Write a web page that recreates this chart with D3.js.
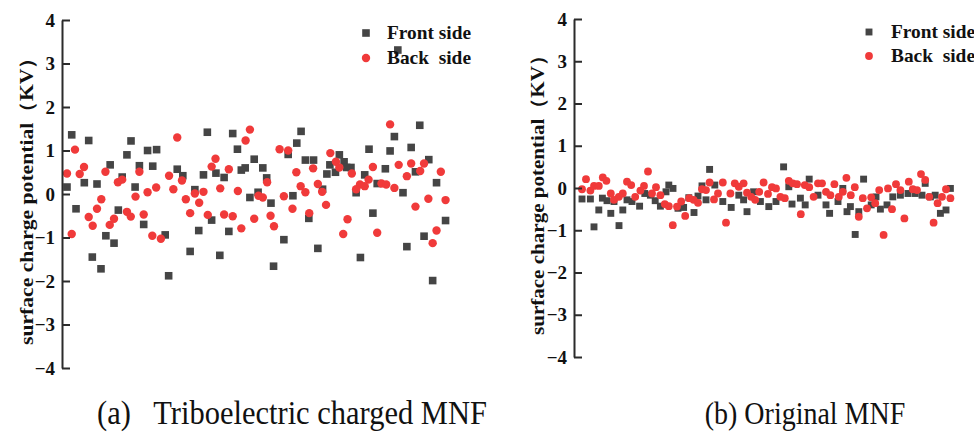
<!DOCTYPE html>
<html>
<head>
<meta charset="utf-8">
<script src="https://cdn.jsdelivr.net/npm/d3@7"></script>
<style>
  body { margin: 0; background: #fff; }
  svg { display: block; }
  text { font-family: "Liberation Serif", "Times New Roman", serif; }
</style>
</head>
<body>
<svg id="chart" width="974" height="432"></svg>
<script>
// ---------- DATA ----------
const yTicks = [-4, -3, -2, -1, 0, 1, 2, 3, 4];
const seriesNames = ["Front side", "Back  side"];
const yLabel = "surface charge potential（KV）";
const captions = ["(a)   Triboelectric charged MNF", "(b) Original MNF"];

// Panel (a): Triboelectric charged MNF
const aFrontX = [2.26,6.21,16.05,33.8,39.7,19.9,22.0,15.1,40.8,11.2,18.0,21.1,26.8,44.7,42.6,41.7,46.7,14.0,28.1,32.9,35.8,37.7,47.6,1.16,5.19,8.14,17.0,30.9,3.26,13.1,43.7,45.6,48.6,19.0,34.8,10.2,24.0,31.8,38.8,12.1,7.05,9.07,29.8,36.7,24.8,49.2,
  55.6,54.6,52.6,56.6,58.5,83.2,77.3,71.4,76.3,81.2,85.3,64.5,65.6,62.3,67.2,66.2,63.6,61.6,70.4,75.2,82.2,73.3,87.1,53.7,60.6,68.4,79.3,57.4,72.3,89.2,51.6,59.5,84.2,80.2,69.4,86.2,78.1];
const aFrontY = [1.36,1.23,1.22,1.42,1.39,1.00,1.02,0.90,1.03,0.67,0.65,0.64,0.57,0.80,0.60,0.55,0.60,0.39,0.42,0.44,0.48,0.38,0.37,0.16,0.26,0.23,0.16,0.10,-0.34,-0.37,-0.08,0.04,-0.21,-0.70,-0.60,-0.96,-0.94,-0.84,-0.86,-1.13,-1.45,-1.72,-1.32,-1.41,-1.88,-1.66,
  1.44,1.17,0.91,0.78,0.78,1.58,1.32,1.03,0.99,1.07,0.79,0.90,0.74,0.67,0.61,0.61,0.50,0.46,0.44,0.58,0.51,0.24,0.26,-0.04,0.11,0.03,0.03,-0.56,-0.44,-0.61,-1.05,-1.25,-0.97,-1.21,-1.46,-1.99,3.31];
const aBackX = [3.02,26.8,43.7,42.7,35.7,34.8,38.8,5.12,4.12,1.16,10.1,18.0,24.9,13.0,14.0,27.9,47.7,25.9,21.9,19.9,17.1,9.14,36.8,40.9,32.9,30.9,28.8,31.9,8.14,45.7,46.7,6.21,7.14,11.1,12.1,15.1,16.0,19.0,29.8,33.9,37.7,39.7,44.7,41.7,48.5,2.26,21.0,23.0,49.3,
  76.3,50.6,52.6,62.4,63.7,64.5,58.4,54.5,67.4,72.3,78.3,81.2,84.2,83.3,80.2,88.1,71.3,69.3,70.4,68.4,74.3,75.4,77.3,55.5,56.6,59.5,60.5,51.6,61.4,53.6,57.5,66.4,65.4,73.3,82.2,85.2,89.2,87.1,86.2];
const aBackY = [1.02,1.30,1.48,1.23,0.81,0.63,0.57,0.62,0.46,0.47,0.51,0.51,0.42,0.27,0.33,0.31,0.27,0.11,0.15,0.04,-0.06,-0.12,0.13,0.07,0.05,0.01,-0.12,-0.20,-0.34,-0.04,-0.08,-0.53,-0.73,-0.71,-0.57,-0.41,-0.52,-0.47,-0.44,-0.48,-0.47,-0.51,-0.57,-0.79,-0.50,-0.92,-0.96,-1.03,-0.74,
  1.60,1.03,1.00,0.94,0.74,0.61,0.59,0.50,0.47,0.62,0.67,0.70,0.70,0.53,0.41,0.51,0.33,0.22,0.18,0.11,0.24,0.22,0.14,0.18,0.04,0.23,0.05,-0.05,-0.25,-0.34,-0.44,-0.58,-0.92,-0.89,-0.29,-0.11,-0.14,-0.84,-1.13];

// Panel (b): Original MNF
const bFrontX = [2.0,4.1,5.0,6.2,7.1,8.25,9.2,10.0,11.25,12.2,13.25,14.5,16.4,17.7,19.1,20.3,21.6,23.0,23.7,24.75,26.0,27.4,28.7,30.0,31.0,32.0,33.0,33.9,35.2,37.2,39.3,41.2,42.4,43.25,44.9,46.6,48.7,50.5,52.4,53.7,54.5,56.6,57.8,58.8,61.0,63.0,63.9,66.0,67.2,68.25,69.1,70.3,71.2,72.4,74.3,75.5,76.6,78.25,79.7,81.6,83.5,85.3,87.0,87.8,89.1,90.3,91.6,93.0,94.1];
const bFrontY = [-0.26,-0.26,-0.92,-0.52,-0.24,-0.30,-0.60,-0.32,-0.89,-0.52,-0.28,-0.32,-0.43,-0.13,-0.17,-0.30,-0.43,-0.09,0.07,-0.01,-0.48,-0.46,-0.23,-0.58,-0.19,0.05,-0.28,0.44,0.07,-0.32,-0.46,-0.17,-0.28,-0.56,-0.09,-0.32,-0.44,-0.32,0.50,0.03,-0.38,-0.24,-0.40,0.21,-0.17,-0.40,-0.60,-0.32,-0.01,-0.56,-0.44,-1.10,-0.56,0.21,-0.40,-0.21,-0.50,-0.40,-0.21,-0.17,-0.13,-0.13,-0.17,0.11,-0.21,-0.17,-0.60,-0.52,-0.01];
const bBackX = [2.0,3.0,4.1,5.0,6.2,7.2,8.1,9.2,10.0,11.2,12.2,13.25,14.3,15.3,16.6,17.5,18.5,19.5,20.5,21.6,22.7,23.7,24.7,25.75,26.8,27.8,28.8,29.9,31.0,32.0,33.0,33.9,35.0,36.0,37.2,38.0,39.1,40.2,41.2,42.4,43.25,44.3,45.3,46.3,47.4,48.5,49.5,50.5,51.6,52.7,53.7,54.7,55.75,56.7,57.7,58.8,59.9,61.0,62.0,63.0,64.1,65.1,66.2,67.2,68.1,69.2,70.2,71.2,72.2,73.25,74.3,75.3,76.3,77.4,78.5,79.5,80.5,81.6,82.6,83.7,84.7,85.75,86.75,87.8,88.8,89.9,90.9,92.0,93.0,94.1];
const bBackY = [-0.03,0.21,-0.06,0.05,0.05,0.25,0.17,-0.13,-0.28,-0.21,-0.13,0.15,0.07,-0.21,-0.06,0.05,0.39,-0.13,0.02,-0.17,-0.38,-0.43,-0.88,-0.44,-0.32,-0.66,-0.24,-0.28,-0.35,-0.03,-0.05,0.13,-0.27,-0.13,0.13,-0.82,-0.13,0.11,0.03,0.11,-0.11,-0.21,-0.28,-0.09,0.13,-0.14,0.02,-0.01,-0.21,-0.24,0.17,0.11,0.09,-0.62,0.07,0.02,-0.21,0.11,0.11,-0.09,-0.17,0.09,-0.21,-0.09,0.24,-0.17,0.02,-0.68,-0.24,-0.48,-0.22,-0.36,-0.05,-1.11,-0.01,-0.50,0.09,-0.05,-0.72,0.15,-0.03,-0.05,0.33,0.19,-0.21,-0.82,-0.36,-0.21,-0.03,-0.24];

// ---------- DRAW ----------
const svg = d3.select("#chart");
const GRAY = "#454545", RED = "#f03a3a", AXIS = "#2b2b2b";

const panels = [
  { fx: aFrontX, fy: aFrontY, bx: aBackX, by: aBackY,
    xr: [62, 492], yr: [368, 20], sq: 7.6, r: 4.2, labelLen: 298,
    labelX: 26.5, legendX: 366, legendY: [33, 58], textX: 387,
    caption: captions[0], capX: 292, capSize: 30.5 },
  { fx: bFrontX, fy: bFrontY, bx: bBackX, by: bBackY,
    xr: [574, 974], yr: [357, 19], sq: 6.9, r: 3.9, labelLen: 290,
    labelX: 537.5, legendX: 869, legendY: [32, 56], textX: 891,
    caption: captions[1], capX: 805, capSize: 28 }
];

panels.forEach(p => {
  const x = d3.scaleLinear().domain([0, 100]).range(p.xr);
  const y = d3.scaleLinear().domain([-4, 4]).range(p.yr);
  const g = svg.append("g");

  // squares (front)
  g.append("g").selectAll("rect")
    .data(d3.zip(p.fx, p.fy))
    .join("rect")
    .attr("x", d => x(d[0]) - p.sq / 2)
    .attr("y", d => y(d[1]) - p.sq / 2)
    .attr("width", p.sq).attr("height", p.sq)
    .attr("fill", GRAY);

  // circles (back)
  g.append("g").selectAll("circle")
    .data(d3.zip(p.bx, p.by))
    .join("circle")
    .attr("cx", d => x(d[0]))
    .attr("cy", d => y(d[1]))
    .attr("r", p.r)
    .attr("fill", RED);

  // axis
  const ax = g.append("g")
    .attr("transform", `translate(${p.xr[0]},0)`)
    .call(d3.axisLeft(y).tickValues(yTicks).tickSizeInner(-8).tickSizeOuter(0).tickPadding(7)
      .tickFormat(d3.format("d")));
  ax.attr("font-family", "Liberation Serif");
  ax.select(".domain").attr("stroke", AXIS).attr("stroke-width", 2);
  ax.selectAll(".tick line").attr("stroke", AXIS).attr("stroke-width", 2);
  ax.selectAll(".tick text")
    .attr("fill", "#111")
    .style("font-weight", "bold")
    .style("font-size", "19px");

  // y label
  const yMid = (p.yr[0] + p.yr[1]) / 2;
  g.append("text")
    .attr("transform", `translate(${p.labelX},${yMid + 2}) rotate(-90)`)
    .attr("text-anchor", "middle")
    .attr("dominant-baseline", "central")
    .attr("textLength", p.labelLen)
    .attr("lengthAdjust", "spacingAndGlyphs")
    .style("font-weight", "bold")
    .style("font-size", "19px")
    .attr("fill", "#111")
    .text(yLabel);

  // legend
  const lg = g.append("g");
  lg.append("rect")
    .attr("x", p.legendX - p.sq / 2).attr("y", p.legendY[0] - p.sq / 2)
    .attr("width", p.sq).attr("height", p.sq).attr("fill", GRAY);
  lg.append("circle")
    .attr("cx", p.legendX).attr("cy", p.legendY[1]).attr("r", p.r).attr("fill", RED);
  seriesNames.forEach((s, i) => {
    lg.append("text")
      .attr("x", p.textX).attr("y", p.legendY[i] + 6)
      .attr("textLength", 84)
      .attr("lengthAdjust", "spacingAndGlyphs")
      .style("font-weight", "bold").style("font-size", "19px")
      .style("white-space", "pre")
      .attr("fill", "#111")
      .text(s);
  });

  // caption (slightly tall glyphs, as in the reference)
  svg.append("text")
    .attr("transform", `translate(${p.capX},424) scale(1,1.12)`)
    .attr("text-anchor", "middle")
    .style("font-size", p.capSize + "px")
    .style("white-space", "pre")
    .attr("fill", "#111")
    .text(p.caption);
});
</script>
</body>
</html>
